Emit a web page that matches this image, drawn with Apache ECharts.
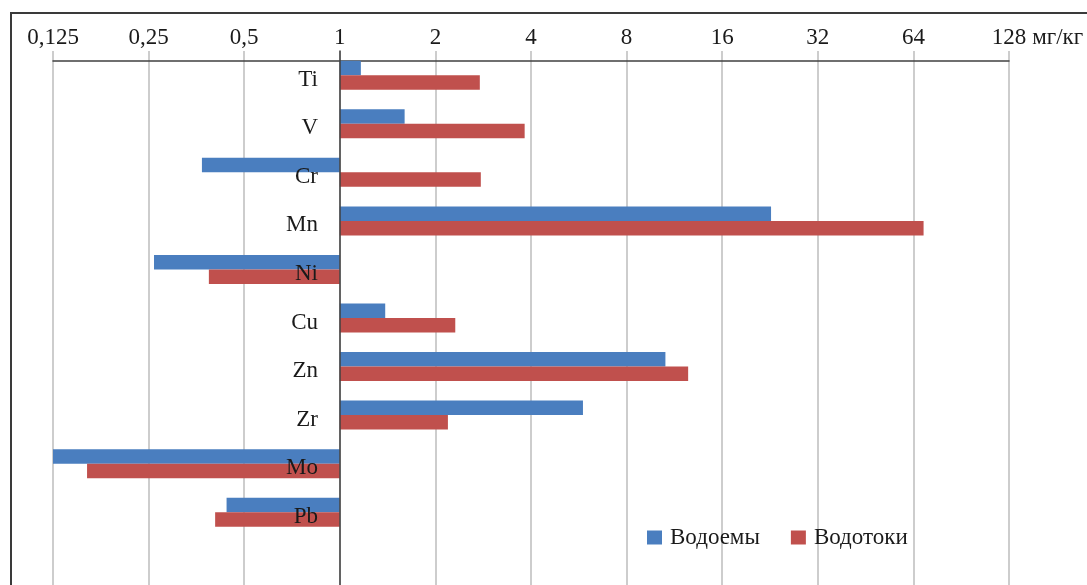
<!DOCTYPE html>
<html>
<head>
<meta charset="utf-8">
<script src="https://cdn.jsdelivr.net/npm/echarts@6/dist/echarts.min.js"></script>
<style>
  html, body { margin: 0; padding: 0; background: #fff; overflow: hidden; }
  #chart { position: absolute; left: 0; top: 0; width: 1087px; height: 585px; }
  #frame { position: absolute; left: 10px; top: 12px; width: 2000px; height: 2000px; border: 2px solid #3a3a3a; pointer-events: none; }
</style>
</head>
<body>
<div id="chart"></div>
<div id="frame"></div>
<script>
// элементы сверху вниз
var elements = ['Ti', 'V', 'Cr', 'Mn', 'Ni', 'Cu', 'Zn', 'Zr', 'Mo', 'Pb'];
var seriesNames = ['Водоемы', 'Водотоки'];
// мг/кг
var vodoemy  = [1.165, 1.6, 0.368, 22.8, 0.26, 1.39, 10.6, 5.83, 0.125, 0.44];
var vodotoki = [2.76, 3.82, 2.78, 68.9, 0.387, 2.31, 12.5, 2.19, 0.16, 0.405];
var unit = 'мг/кг';

var font = 'Liberation Serif';
var textColor = '#1a1a1a';

var chart = echarts.init(document.getElementById('chart'));
var option = {
  backgroundColor: 'transparent',
  color: ['#4a7ebf', '#c0504d'],
  animation: false,
  grid: {
    left: 53,
    right: 78,
    top: 51,
    bottom: -10.5,
    containLabel: false
  },
  legend: {
    data: seriesNames,
    icon: 'rect',
    itemWidth: 15,
    itemHeight: 14,
    itemGap: 31,
    left: 647,
    top: 526,
    padding: 0,
    textStyle: {
      fontFamily: font,
      fontSize: 23,
      color: textColor,
      padding: [0, 0, 0, 3]
    }
  },
  xAxis: {
    type: 'log',
    logBase: 2,
    min: 0.125,
    max: 128,
    interval: 1, // шаг по показателю степени
    position: 'top',
    offset: -10,
    axisLine: { show: true, onZero: false, lineStyle: { color: '#404040', width: 1.5 } },
    axisTick: { show: false },
    splitLine: { show: true, lineStyle: { color: '#bdbdbd', width: 1.5 } },
    axisLabel: {
      fontFamily: font,
      fontSize: 23,
      color: textColor,
      margin: 12,
      formatter: function (v) {
        return String(v).replace('.', ',');
      }
    },
    name: unit,
    nameLocation: 'end',
    nameGap: 19,
    nameTextStyle: {
      fontFamily: font,
      fontSize: 23,
      color: textColor,
      verticalAlign: 'bottom',
      padding: [0, 0, 12, 0]
    }
  },
  yAxis: {
    type: 'category',
    data: elements,
    inverse: true,
    max: 10,
    position: 'left',
    offset: -287,
    z: 10,
    axisLine: { show: true, onZero: false, lineStyle: { color: '#404040', width: 1.5 } },
    axisTick: { show: false },
    splitLine: { show: false },
    axisLabel: {
      margin: 22,
      formatter: function (v) {
        return elements.indexOf(v) >= 0 ? '{e|' + v + '}' : '';
      },
      rich: {
        e: {
          fontFamily: font,
          fontSize: 23,
          color: textColor,
          padding: [9, 0, 0, 0]
        }
      }
    }
  },
  series: [
    {
      name: seriesNames[0],
      type: 'bar',
      barWidth: 14.5,
      barGap: '0%',
      data: vodoemy
    },
    {
      name: seriesNames[1],
      type: 'bar',
      barWidth: 14.5,
      barGap: '0%',
      data: vodotoki
    }
  ]
};
chart.setOption(option);
</script>
</body>
</html>
